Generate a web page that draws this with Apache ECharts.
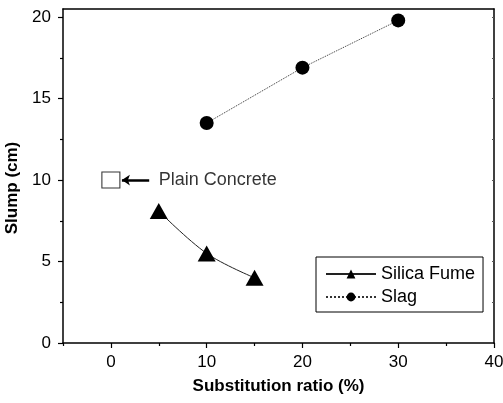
<!DOCTYPE html>
<html>
<head>
<meta charset="utf-8">
<script src="https://cdn.jsdelivr.net/npm/echarts@6/dist/echarts.min.js"></script>
<style>html,body{margin:0;padding:0;background:#fff}#c{width:503px;height:403px}</style>
</head>
<body>
<div id="c"></div>
<script>
var silicaX = [5, 10, 15];
var silicaY = [8.1, 5.5, 4.0];
var slagX = [10, 20, 30];
var slagY = [13.5, 16.9, 19.8];
var plainX = [0];
var plainY = [10];
var plainLabel = 'Plain Concrete';
var xMajor = [0, 10, 20, 30, 40];
var xMinor = [-5, 5, 15, 25, 35];
var yMajor = [0, 5, 10, 15, 20];
var yMinor = [2.5, 7.5, 12.5, 17.5];
var yRightTicks = [2.5, 5, 7.5, 10, 12.5, 15, 17.5, 20];

function pairs(xs, ys) { return xs.map(function (x, i) { return [x, ys[i]]; }); }

var FONT = '"Liberation Sans", Arial, sans-serif';
var chart = echarts.init(document.getElementById('c'), null, { renderer: 'canvas' });
var option = {
  animation: false,
  backgroundColor: '#fff',
  textStyle: { fontFamily: FONT, color: '#000' },
  grid: { left: 63, right: 9, top: 9, bottom: 60, containLabel: false, outerBoundsMode: 'none' },
  xAxis: [
    {
      type: 'value', min: -5, max: 40, position: 'bottom',
      name: 'Substitution ratio (%)', nameLocation: 'middle', nameGap: 35,
      nameTextStyle: { fontFamily: FONT, fontWeight: 'bold', fontSize: 17, color: '#000' },
      axisLine: { show: true, onZero: false, lineStyle: { color: '#000', width: 1.5 } },
      axisTick: { show: true, inside: false, length: 5, customValues: xMajor, lineStyle: { color: '#000', width: 1.2 } },
      axisLabel: { show: true, margin: 11, customValues: xMajor, fontFamily: FONT, fontSize: 17, color: '#000' },
      splitLine: { show: false }
    },
    {
      type: 'value', min: -5, max: 40, position: 'bottom',
      axisLine: { show: false, onZero: false },
      axisTick: { show: true, length: 3, customValues: xMinor, lineStyle: { color: '#000', width: 1.2 } },
      axisLabel: { show: false },
      splitLine: { show: false }
    },
    {
      type: 'value', min: -5, max: 40, position: 'top',
      axisLine: { show: true, onZero: false, lineStyle: { color: '#000', width: 1.5 } },
      axisTick: { show: false },
      axisLabel: { show: false },
      splitLine: { show: false }
    }
  ],
  yAxis: [
    {
      type: 'value', min: 0, max: 20.5, position: 'left',
      name: 'Slump (cm)', nameLocation: 'middle', nameGap: 37,
      nameTextStyle: { fontFamily: FONT, fontWeight: 'bold', fontSize: 17, color: '#000', padding: [0, 24, 0, 0] },
      axisLine: { show: true, onZero: false, lineStyle: { color: '#000', width: 1.5 } },
      axisTick: { show: true, inside: false, length: 5, customValues: yMajor, lineStyle: { color: '#000', width: 1.2 } },
      axisLabel: { show: true, margin: 12, customValues: yMajor, fontFamily: FONT, fontSize: 17, color: '#000' },
      splitLine: { show: false }
    },
    {
      type: 'value', min: 0, max: 20.5, position: 'left',
      axisLine: { show: false, onZero: false },
      axisTick: { show: true, length: 3, customValues: yMinor, lineStyle: { color: '#000', width: 1.2 } },
      axisLabel: { show: false },
      splitLine: { show: false }
    },
    {
      type: 'value', min: 0, max: 20.5, position: 'right',
      axisLine: { show: true, onZero: false, lineStyle: { color: '#000', width: 1.5 } },
      axisTick: { show: true, inside: true, length: 2, customValues: yRightTicks, lineStyle: { color: '#555', width: 1 } },
      axisLabel: { show: false },
      splitLine: { show: false }
    }
  ],
  legend: {
    data: ['Silica Fume', 'Slag'],
    orient: 'vertical', left: 316, top: 257,
    padding: [8, 8, 6, 9], itemGap: 5,
    itemWidth: 50, itemHeight: 11,
    borderColor: '#000', borderWidth: 1, borderRadius: 0,
    textStyle: { fontFamily: FONT, fontSize: 18, color: '#000' },
    itemStyle: { color: '#000' }
  },
  series: [
    {
      name: 'Silica Fume', type: 'line', data: pairs(silicaX, silicaY),
      smooth: 0.35, symbol: 'triangle', symbolSize: [18, 16],
      itemStyle: { color: '#000' },
      lineStyle: { color: '#222', width: 1, type: 'solid' }
    },
    {
      name: 'Slag', type: 'line', data: pairs(slagX, slagY),
      symbol: 'circle', symbolSize: 14,
      itemStyle: { color: '#000' },
      lineStyle: { color: '#333', width: 1, type: 'dotted' }
    },
    {
      name: 'Plain', type: 'scatter', data: pairs(plainX, plainY),
      symbol: 'rect', symbolSize: [18, 16],
      itemStyle: { color: '#fff', borderColor: '#000', borderWidth: 1 },
      markLine: {
        silent: true, animation: false,
        symbol: ['none', 'arrow'], symbolSize: [8, 8],
        label: { show: false },
        lineStyle: { color: '#000', width: 2.5, type: 'solid' },
        data: [[{ coord: [plainX[0] + 4.0, plainY[0]] }, { coord: [plainX[0] + 1.15, plainY[0]] }]]
      }
    },
    {
      name: 'PlainLabel', type: 'scatter', data: [[plainX[0] + 5.0, plainY[0]]],
      symbolSize: 0,
      label: {
        show: true, position: 'right', distance: 0, formatter: plainLabel,
        fontFamily: FONT, fontSize: 18, color: '#000'
      }
    }
  ]
};
chart.setOption(option);
</script>
</body>
</html>
